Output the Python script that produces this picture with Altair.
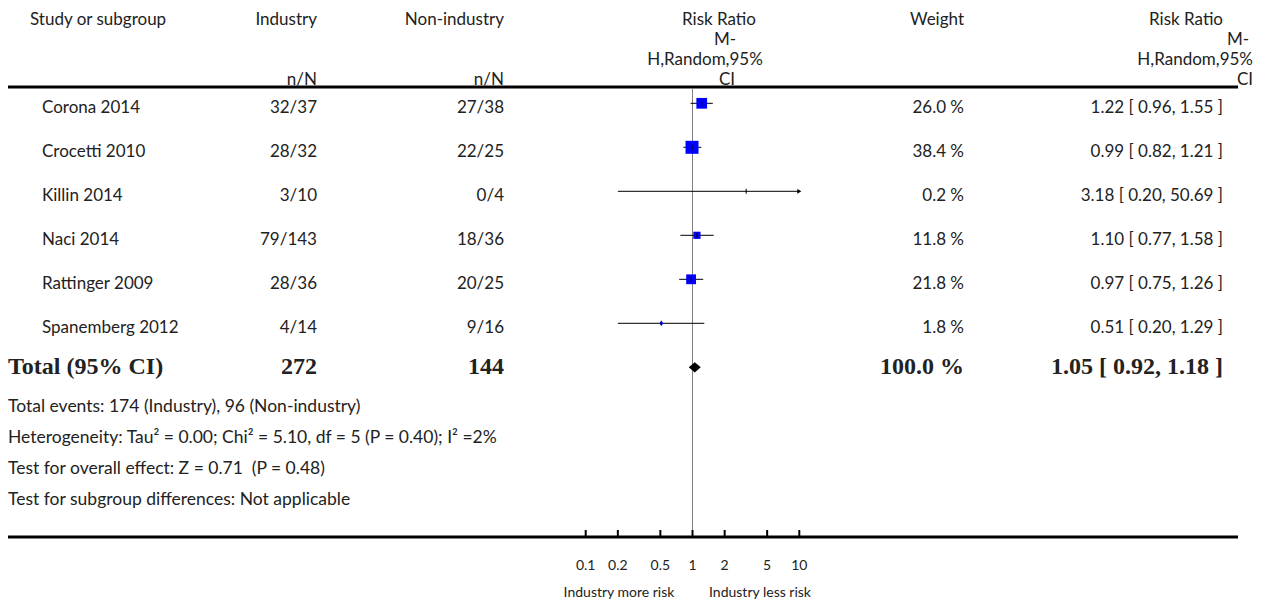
import altair as alt
import pandas as pd

# ---------------- data ----------------
studies = ["Corona 2014", "Crocetti 2010", "Killin 2014", "Naci 2014", "Rattinger 2009", "Spanemberg 2012"]
ind_events = [32, 28, 3, 79, 28, 4]
ind_total = [37, 32, 10, 143, 36, 14]
non_events = [27, 22, 0, 18, 20, 9]
non_total = [38, 25, 4, 36, 25, 16]
weights = [26.0, 38.4, 0.2, 11.8, 21.8, 1.8]
rr = [1.22, 0.99, 3.18, 1.10, 0.97, 0.51]
rr_low = [0.96, 0.82, 0.20, 0.77, 0.75, 0.20]
rr_high = [1.55, 1.21, 50.69, 1.58, 1.26, 1.29]

total_label = "Total (95% CI)"
total_ind_n = 272
total_non_n = 144
total_weight = 100.0
total_rr = 1.05
total_low = 0.92
total_high = 1.18

footnotes = [
    "Total events: 174 (Industry), 96 (Non-industry)",
    "Heterogeneity: Tau\u00b2 = 0.00; Chi\u00b2 = 5.10, df = 5 (P = 0.40); I\u00b2 =2%",
    "Test for overall effect: Z = 0.71 \u00a0(P = 0.48)",
    "Test for subgroup differences: Not applicable",
]
tick_values = [0.1, 0.2, 0.5, 1, 2, 5, 10]
tick_labels = ["0.1", "0.2", "0.5", "1", "2", "5", "10"]
favours = ["Industry more risk", "Industry less risk"]

# ---------------- layout (page pixels) ----------------
M = 8
W, H = 1268 - 2 * M, 607 - 2 * M
SANS = "Lato"
SERIF = "Liberation Serif"
TXT = "#222222"
FS = 17
BFS = 24


def px(x):
    return x - M


def py(y):
    return y - M


AX_MIN, AX_MAX = 0.1, 10
xscale = alt.Scale(type="log", domain=[AX_MIN, AX_MAX], range=[px(585.7), px(799.3)])
yscale = alt.Scale(type="linear", domain=[0, 6], range=[py(103.3), py(367.3)])

df = pd.DataFrame({
    "study": studies,
    "row": list(range(len(studies))),
    "rr": rr,
    "lo": rr_low,
    "hi": rr_high,
    "hi_clip": [min(h, AX_MAX) for h in rr_high],
    "weight": weights,
    "ind": [f"{e}/{n}" for e, n in zip(ind_events, ind_total)],
    "non": [f"{e}/{n}" for e, n in zip(non_events, non_total)],
    "wtxt": [f"{w:.1f} %" for w in weights],
    "rrtxt": [f"{r:.2f} [ {l:.2f}, {h:.2f} ]" for r, l, h in zip(rr, rr_low, rr_high)],
})

tot = pd.DataFrame({
    "row": [len(studies)],
    "rr": [total_rr],
    "label": [total_label],
    "ind": [str(total_ind_n)],
    "non": [str(total_non_n)],
    "wtxt": [f"{total_weight:.1f} %"],
    "rrtxt": [f"{total_rr:.2f} [ {total_low:.2f}, {total_high:.2f} ]"],
})

ticks = pd.DataFrame({"val": tick_values, "lab": tick_labels})

X = lambda f: alt.X(f, scale=xscale, axis=None)
Y = lambda f: alt.Y(f, scale=yscale, axis=None)

one = alt.Data(values=[{}])


def label(txt, x, y, align="left", size=FS, font=SANS, weight="normal"):
    return alt.Chart(one).mark_text(
        text=txt, align=align, baseline="alphabetic", font=font,
        fontSize=size, fontWeight=weight, color=TXT,
    ).encode(x=alt.value(px(x)), y=alt.value(py(y)))


layers = []

# rules
layers.append(alt.Chart(one).mark_rule(color="black", strokeWidth=3).encode(
    x=alt.value(px(8)), x2=alt.value(px(1238)), y=alt.value(py(87))))
layers.append(alt.Chart(one).mark_rule(color="black", strokeWidth=3).encode(
    x=alt.value(px(8)), x2=alt.value(px(1238)), y=alt.value(py(537))))
layers.append(alt.Chart(one).mark_rule(color="#808080", strokeWidth=1).encode(
    x=alt.X(datum=1, type="quantitative", scale=xscale, axis=None),
    y=alt.value(py(88)), y2=alt.value(py(536))))

# CI lines
layers.append(alt.Chart(df).mark_rule(color="black", strokeWidth=1).encode(
    x=X("lo:Q"), x2="hi_clip:Q", y=Y("row:Q")))
# weight squares
layers.append(alt.Chart(df).mark_square(color="#0000ff", opacity=1).encode(
    x=X("rr:Q"), y=Y("row:Q"),
    size=alt.Size("weight:Q", scale=alt.Scale(type="linear", domain=[0, 38.4], range=[0, 169]), legend=None)))
# estimate ticks
layers.append(alt.Chart(df).mark_tick(orient="vertical", size=5, thickness=1, color="black", opacity=1).encode(
    x=X("rr:Q"), y=Y("row:Q")))
# arrow for clipped CI
layers.append(alt.Chart(df).transform_filter(alt.datum.hi > AX_MAX).mark_point(
    shape="triangle-right", filled=True, size=22, color="black", opacity=1).encode(
    x=X("hi_clip:Q"), y=Y("row:Q")))
# total diamond
layers.append(alt.Chart(tot).mark_point(
    shape="M-1,0L0,-0.85L1,0L0,0.85Z", filled=True, size=144, color="black", opacity=1).encode(
    x=X("rr:Q"), y=Y("row:Q")))

# axis ticks and labels
layers.append(alt.Chart(ticks).mark_rule(color="black", strokeWidth=2).encode(
    x=X("val:Q"), y=alt.value(py(530)), y2=alt.value(py(536))))
layers.append(alt.Chart(ticks).mark_text(font=SANS, fontSize=14, color=TXT, baseline="alphabetic").encode(
    x=X("val:Q"), y=alt.value(py(570)), text="lab:N"))
layers.append(label(favours[0], 619, 597, align="center", size=14))
layers.append(label(favours[1], 760, 597, align="center", size=14))


# row texts
def coltext(data, field, x, align, dy, font=SANS, size=FS, weight="normal"):
    return alt.Chart(data).mark_text(
        align=align, baseline="alphabetic", dy=dy, font=font, fontSize=size,
        fontWeight=weight, color=TXT).encode(
        x=alt.value(px(x)), y=Y("row:Q"), text=f"{field}:N")


C_IND, C_NON, C_W, C_RR = 317, 504, 964, 1223
layers += [
    coltext(df, "study", 42, "left", 10),
    coltext(df, "ind", C_IND, "right", 10),
    coltext(df, "non", C_NON, "right", 10),
    coltext(df, "wtxt", C_W, "right", 10),
    coltext(df, "rrtxt", C_RR, "right", 10),
]
layers += [
    coltext(tot, "label", 8, "left", 7, SERIF, BFS, "bold"),
    coltext(tot, "ind", C_IND, "right", 7, SERIF, BFS, "bold"),
    coltext(tot, "non", C_NON, "right", 7, SERIF, BFS, "bold"),
    coltext(tot, "wtxt", C_W, "right", 7, SERIF, BFS, "bold"),
    coltext(tot, "rrtxt", C_RR, "right", 7, SERIF, BFS, "bold"),
]

# footnotes
for i, t in enumerate(footnotes):
    layers.append(label(t, 8, 412 + 31 * i, size=17.5))

# headers
HB = [25, 44.5, 64.5, 84.5]
layers += [
    label("Study or subgroup", 30, HB[0]),
    label("Industry", C_IND, HB[0], "right"),
    label("n/N", C_IND, HB[3], "right"),
    label("Non-industry", C_NON, HB[0], "right"),
    label("n/N", C_NON, HB[3], "right"),
    label("Risk Ratio", 719, HB[0], "center"),
    label("M-", 725, HB[1], "center"),
    label("H,Random,95%", 705, HB[2], "center"),
    label("CI", 727, HB[3], "center"),
    label("Weight", C_W, HB[0], "right"),
    label("Risk Ratio", C_RR, HB[0], "right"),
    label("M-", 1249, HB[1], "right"),
    label("H,Random,95%", 1253, HB[2], "right"),
    label("CI", 1253, HB[3], "right"),
]

chart = alt.layer(*layers).properties(
    width=W, height=H, padding=0, autosize=alt.AutoSizeParams(type="none")
).configure_view(stroke=None)

chart.save("out.html", embed_options={"renderer": "svg", "actions": False})
